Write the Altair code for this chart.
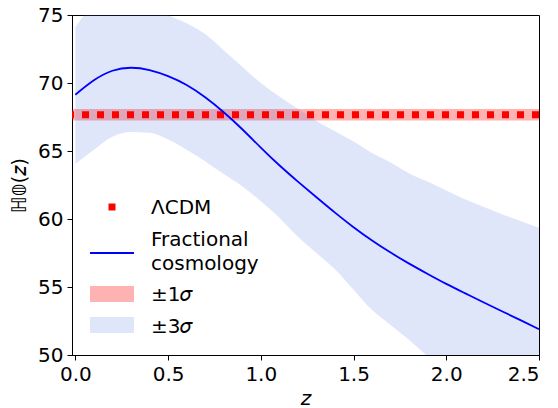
import altair as alt
import pandas as pd

# ---- data ----
z = [0.0, 0.1, 0.2, 0.3, 0.4, 0.5, 0.6, 0.7, 0.8, 0.9, 1.0, 1.1, 1.2,
     1.3, 1.4, 1.5, 1.6, 1.7, 1.8, 1.9, 2.0, 2.1, 2.2, 2.3, 2.4, 2.5]
h_frac = [69.14, 70.2, 70.9, 71.12, 70.95, 70.5, 69.85, 68.95, 67.85, 66.6,
          65.25, 63.95, 62.75, 61.6, 60.47, 59.4, 58.42, 57.53, 56.72, 55.96,
          55.23, 54.55, 53.88, 53.22, 52.56, 51.9]
h_upper = [74.1, 75.8, 76.5, 76.6, 76.0, 75.0, 74.4, 73.6, 72.4, 71.2,
           70.0, 69.0, 68.1, 67.2, 66.45, 65.7, 64.85, 64.15, 63.35, 62.75,
           62.1, 61.45, 60.9, 60.35, 59.85, 59.35]
h_lower = [64.04, 65.1, 66.05, 66.4, 66.35, 65.85, 65.1, 64.25, 63.3, 62.4,
           61.3, 60.1, 58.7, 57.5, 56.3, 54.8, 53.3, 52.2, 51.1, 49.9,
           48.8, 47.7, 46.6, 45.5, 44.4, 43.3]
lcdm_h0 = 67.66
lcdm_sigma = 0.42
x_ticks = [0.0, 0.5, 1.0, 1.5, 2.0, 2.5]
y_ticks = [50, 55, 60, 65, 70, 75]
legend_labels = ["ΛCDM", "Fractional", "cosmology", "±1𝜎", "±3𝜎"]
x_title = "z"
y_title = "ℍ𝟘(𝑧)"

W, H = 467, 340
FONT = "DejaVu Sans"

df = pd.DataFrame({"z": z, "h": h_frac, "lo": h_lower, "hi": h_upper})
lcdm_df = pd.DataFrame({"h": [lcdm_h0], "lo": [lcdm_h0 - lcdm_sigma],
                        "hi": [lcdm_h0 + lcdm_sigma]})

xscale = alt.Scale(domain=[-0.018, 2.5], nice=False, zero=False)
yscale = alt.Scale(domain=[50, 75], nice=False, zero=False)
xaxis = alt.Axis(values=x_ticks, format=".1f", title=x_title,
                 titleFontStyle="italic", titlePadding=4, labelPadding=4)
yaxis = alt.Axis(values=y_ticks, format="d", title=y_title,
                 titlePadding=8, labelPadding=4)

red_band = alt.Chart(lcdm_df).mark_rect(color="#ff0000", opacity=0.3).encode(
    y=alt.Y("lo:Q", scale=yscale, axis=yaxis),
    y2="hi:Q",
    x=alt.value(0), x2=alt.value(W),
)

blue_band = alt.Chart(df).mark_area(
    color="#4169e1", opacity=0.17, interpolate="monotone", clip=True
).encode(
    x=alt.X("z:Q", scale=xscale, axis=xaxis),
    y=alt.Y("lo:Q", scale=yscale, axis=yaxis),
    y2="hi:Q",
)

red_rule = alt.Chart(lcdm_df).mark_rule(
    color="#ff0000", strokeWidth=7, strokeDash=[7, 8], strokeCap="butt"
).encode(y=alt.Y("h:Q", scale=yscale, axis=yaxis))

blue_line = alt.Chart(df).mark_line(
    color="#0000ff", strokeWidth=1.8, interpolate="natural", clip=True
).encode(
    x=alt.X("z:Q", scale=xscale, axis=xaxis),
    y=alt.Y("h:Q", scale=yscale, axis=yaxis),
)

# ---- manual legend (pixel positions inside plot area) ----
def one(label):
    return alt.Chart(pd.DataFrame({"t": [label]}))

def leg_text(label, yb):
    return one(label).mark_text(
        align="left", baseline="alphabetic", font=FONT, fontSize=20, color="black"
    ).encode(text="t:N", x=alt.value(79), y=alt.value(yb))

leg_sq = one("sq").mark_square(color="#ff0000", size=49, opacity=1, filled=True).encode(
    x=alt.value(40), y=alt.value(192))
leg_line = one("ln").mark_rule(color="#0000ff", strokeWidth=2).encode(
    x=alt.value(18), x2=alt.value(62), y=alt.value(238))
leg_r1 = one("r1").mark_rect(color="#ff0000", opacity=0.3).encode(
    x=alt.value(18), x2=alt.value(62), y=alt.value(271), y2=alt.value(287))
leg_r3 = one("r3").mark_rect(color="#4169e1", opacity=0.17).encode(
    x=alt.value(18), x2=alt.value(62), y=alt.value(302), y2=alt.value(318))

legend = [
    leg_sq, leg_line, leg_r1, leg_r3,
    leg_text(legend_labels[0], 198.5),
    leg_text(legend_labels[1], 230.5),
    leg_text(legend_labels[2], 254.5),
    leg_text(legend_labels[3], 285.5),
    leg_text(legend_labels[4], 317.5),
]

chart = alt.layer(red_band, blue_band, red_rule, blue_line, *legend).properties(
    width=W, height=H,
    autosize=alt.AutoSizeParams(type="none"),
    padding={"left": 64, "top": 7, "right": 11, "bottom": 58},
).configure_view(
    stroke="black", strokeWidth=1
).configure_axis(
    grid=False, labelFont=FONT, titleFont=FONT, labelFontSize=20,
    titleFontSize=20, labelColor="black", titleColor="black",
    tickColor="black", tickSize=5, tickWidth=1, domainColor="black",
    domainWidth=1, titleFontWeight="normal",
)

chart.save("out.html", embed_options={"renderer": "svg", "actions": False})
